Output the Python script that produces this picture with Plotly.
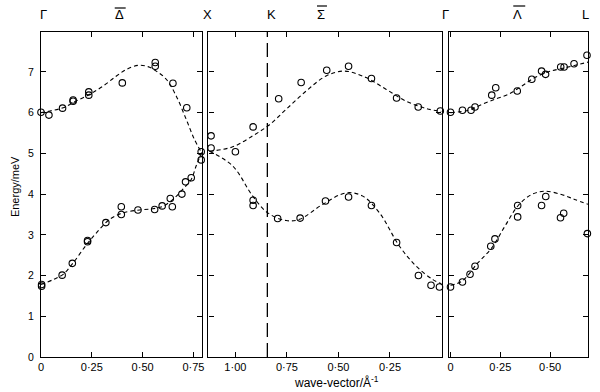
import plotly.graph_objects as go

# ---- data ----
# Panel 1: Gamma -> X  (Delta direction)
delta_up_q = [0, 0.039, 0.106, 0.158, 0.158, 0.235, 0.235, 0.40, 0.562, 0.562, 0.649, 0.717, 0.788, 0.788]
delta_up_E = [6.01, 5.94, 6.11, 6.28, 6.31, 6.43, 6.51, 6.73, 7.23, 7.14, 6.72, 6.12, 5.04, 4.84]
delta_lo_q = [0.003, 0.003, 0.104, 0.154, 0.229, 0.229, 0.319, 0.395, 0.395, 0.477, 0.559, 0.596, 0.636, 0.646, 0.693, 0.711, 0.739]
delta_lo_E = [1.78, 1.74, 2.01, 2.30, 2.83, 2.86, 3.30, 3.69, 3.50, 3.61, 3.62, 3.71, 3.89, 3.69, 4.00, 4.30, 4.40]
delta_fit_up_q = [0, 0.044, 0.109, 0.175, 0.24, 0.305, 0.371, 0.42, 0.477, 0.526, 0.567, 0.616, 0.665, 0.714, 0.755, 0.79]
delta_fit_up_E = [6.0, 6.04, 6.12, 6.29, 6.45, 6.65, 6.90, 7.06, 7.16, 7.13, 7.02, 6.82, 6.41, 5.84, 5.34, 5.02]
delta_fit_lo_q = [0.0, 0.06, 0.109, 0.158, 0.224, 0.273, 0.338, 0.403, 0.485, 0.55, 0.6, 0.649, 0.698, 0.739, 0.763, 0.79]
delta_fit_lo_E = [1.78, 1.90, 2.03, 2.31, 2.76, 3.05, 3.38, 3.54, 3.61, 3.64, 3.70, 3.87, 4.12, 4.36, 4.69, 5.02]

# Panel 2: X -> K -> Gamma  (Sigma direction, reversed scale)
sigma_up_q = [1.118, 1.118, 1.00, 0.914, 0.790, 0.681, 0.557, 0.451, 0.340, 0.218, 0.113, 0.006]
sigma_up_E = [5.43, 5.13, 5.04, 5.65, 6.34, 6.74, 7.04, 7.14, 6.84, 6.36, 6.14, 6.04]
sigma_lo_q = [0.914, 0.914, 0.795, 0.686, 0.563, 0.451, 0.340, 0.218, 0.112, 0.051, 0.010]
sigma_lo_E = [3.85, 3.72, 3.40, 3.41, 3.83, 3.93, 3.72, 2.81, 2.00, 1.76, 1.72]
sigma_fit_up_q = [1.125, 1.013, 0.916, 0.838, 0.754, 0.657, 0.560, 0.471, 0.366, 0.268, 0.171, 0.074, 0.0]
sigma_fit_up_E = [5.05, 5.16, 5.43, 5.69, 6.08, 6.53, 6.90, 7.02, 6.86, 6.57, 6.28, 6.10, 6.03]
sigma_fit_lo_q = [1.125, 1.013, 0.916, 0.843, 0.754, 0.689, 0.576, 0.462, 0.382, 0.301, 0.204, 0.123, 0.042, 0.0]
sigma_fit_lo_E = [5.05, 4.69, 3.95, 3.54, 3.35, 3.38, 3.75, 4.03, 3.95, 3.54, 2.72, 2.23, 1.90, 1.80]
K_Q = 0.845

# Panel 3: Gamma -> L  (Lambda direction)
lambda_up_q = [0, 0.06, 0.103, 0.123, 0.207, 0.227, 0.335, 0.408, 0.457, 0.477, 0.553, 0.57, 0.62, 0.685]
lambda_up_E = [6.01, 6.06, 6.06, 6.14, 6.43, 6.61, 6.53, 6.82, 7.02, 6.94, 7.12, 7.12, 7.20, 7.41]
lambda_lo_q = [0, 0.06, 0.098, 0.123, 0.202, 0.223, 0.337, 0.337, 0.457, 0.478, 0.552, 0.568, 0.687]
lambda_lo_E = [1.72, 1.84, 2.03, 2.23, 2.72, 2.90, 3.72, 3.44, 3.72, 3.94, 3.42, 3.53, 3.03]
lambda_fit_up_q = [0, 0.09, 0.157, 0.223, 0.29, 0.357, 0.423, 0.49, 0.573, 0.69]
lambda_fit_up_E = [6.0, 6.06, 6.20, 6.33, 6.45, 6.65, 6.86, 7.0, 7.10, 7.24]
lambda_fit_lo_q = [0, 0.057, 0.137, 0.207, 0.273, 0.34, 0.407, 0.473, 0.557, 0.623, 0.69]
lambda_fit_lo_E = [1.76, 1.86, 2.31, 2.68, 3.21, 3.72, 3.99, 4.07, 3.99, 3.87, 3.75]

panel1_ticks = [0, 0.25, 0.50, 0.75]
panel1_labels = ["0", "0·25", "0·50", "0·75"]
panel2_ticks = [1.00, 0.75, 0.50, 0.25]
panel2_labels = ["1·00", "0·75", "0·50", "0·25"]
panel3_ticks = [0, 0.25, 0.50]
panel3_labels = ["0", "0·25", "0·50"]
energy_ticks = [0, 1, 2, 3, 4, 5, 6, 7]

sym_labels = ["Γ", "Δ", "X", "K", "Σ", "Γ", "Λ", "L"]
sym_pos = [0.005, 0.144, 0.304, 0.421, 0.512, 0.740, 0.872, 0.995]

FONT = "Liberation Sans"

fig = go.Figure()

def add_panel(xa, ya, pts, fits):
    for q, e in fits:
        fig.add_trace(go.Scatter(x=q, y=e, mode="lines", xaxis=xa, yaxis=ya,
                                 line=dict(color="black", width=1.1, dash="4px,3px", shape="spline", smoothing=1.0),
                                 showlegend=False, hoverinfo="skip", cliponaxis=False))
    for q, e in pts:
        fig.add_trace(go.Scatter(x=q, y=e, mode="markers", xaxis=xa, yaxis=ya,
                                 marker=dict(symbol="circle-open", size=6.5, color="black", line=dict(width=1.1)),
                                 showlegend=False, cliponaxis=False))

add_panel("x", "y", [(delta_up_q, delta_up_E), (delta_lo_q, delta_lo_E)],
          [(delta_fit_up_q, delta_fit_up_E), (delta_fit_lo_q, delta_fit_lo_E)])
add_panel("x2", "y2", [(sigma_up_q, sigma_up_E), (sigma_lo_q, sigma_lo_E)],
          [(sigma_fit_up_q, sigma_fit_up_E), (sigma_fit_lo_q, sigma_fit_lo_E)])
add_panel("x3", "y3", [(lambda_up_q, lambda_up_E), (lambda_lo_q, lambda_lo_E)],
          [(lambda_fit_up_q, lambda_fit_up_E), (lambda_fit_lo_q, lambda_fit_lo_E)])

common_x = dict(showline=True, linecolor="black", linewidth=1.3, mirror="ticks", ticks="inside",
                ticklen=5, tickwidth=1.2, tickcolor="black", showgrid=False, zeroline=False,
                tickfont=dict(family=FONT, size=11, color="black"), tickmode="array")
common_y = dict(showline=True, linecolor="black", linewidth=1.3, mirror="ticks", ticks="inside",
                ticklen=5, tickwidth=1.2, tickcolor="black", showgrid=False, zeroline=False,
                tickfont=dict(family=FONT, size=10.5, color="black"), tickmode="array",
                tickvals=energy_ticks, range=[0, 7.98])

W, H = 600, 392
ml, mr, mt, mb = 41, 10, 32, 35
pw = W - ml - mr
ph = H - mt - mb

def dom(a, b):
    return [(a - ml) / pw, (b - ml) / pw]

fig.update_layout(
    width=W, height=H, margin=dict(l=ml, r=mr, t=mt, b=mb),
    paper_bgcolor="white", plot_bgcolor="white",
    xaxis=dict(common_x, domain=dom(41, 203), range=[0, 0.794], tickvals=panel1_ticks, ticktext=panel1_labels, anchor="y"),
    xaxis2=dict(common_x, domain=dom(209, 443), range=[1.131, 0], tickvals=panel2_ticks, ticktext=panel2_labels, anchor="y2"),
    xaxis3=dict(common_x, domain=dom(450, 590), range=[-0.01, 0.69], tickvals=panel3_ticks, ticktext=panel3_labels, anchor="y3"),
    yaxis=dict(common_y, anchor="x", ticktext=[str(v) for v in energy_ticks], ticklabelstandoff=4),
    yaxis2=dict(common_y, anchor="x2", matches="y", showticklabels=False),
    yaxis3=dict(common_y, anchor="x3", matches="y", showticklabels=False),
    showlegend=False,
)

# K dashed vertical line
fig.add_shape(type="line", xref="x2", yref="y2 domain", x0=K_Q, x1=K_Q, y0=0, y1=1,
              line=dict(color="black", width=1.3, dash="14px,6px"))

# symmetry point labels
for lab, xp in zip(sym_labels, sym_pos):
    fig.add_annotation(text=lab, xref="paper", yref="paper", x=xp, y=(H - mb - 15) / ph,
                       showarrow=False, xanchor="center", yanchor="middle",
                       font=dict(family=FONT, size=13, color="black"))

# overbars on direction labels
def px_x(p):
    return (p - ml) / pw

def px_y(p):
    return (H - mb - p) / ph

for x0, x1, yy in [(115, 126, 8), (318, 328, 6), (515, 527, 6)]:
    fig.add_shape(type="line", xref="paper", yref="paper", x0=px_x(x0), x1=px_x(x1),
                  y0=px_y(yy), y1=px_y(yy), line=dict(color="black", width=1.2))

fig.add_annotation(text="wave-vector/Å<sup>-1</sup>", xref="paper", yref="paper",
                   x=px_x(338), y=px_y(382), showarrow=False, xanchor="center", yanchor="middle",
                   font=dict(family=FONT, size=12, color="black"))
fig.add_annotation(text="Energy/meV", xref="paper", yref="paper", textangle=-90,
                   x=px_x(15), y=px_y(187), showarrow=False, xanchor="center", yanchor="middle",
                   font=dict(family=FONT, size=11, color="black"))

fig.write_html("out.html", config={"displayModeBar": False},
               post_script="document.body.style.margin='0';document.body.style.overflow='hidden';")
